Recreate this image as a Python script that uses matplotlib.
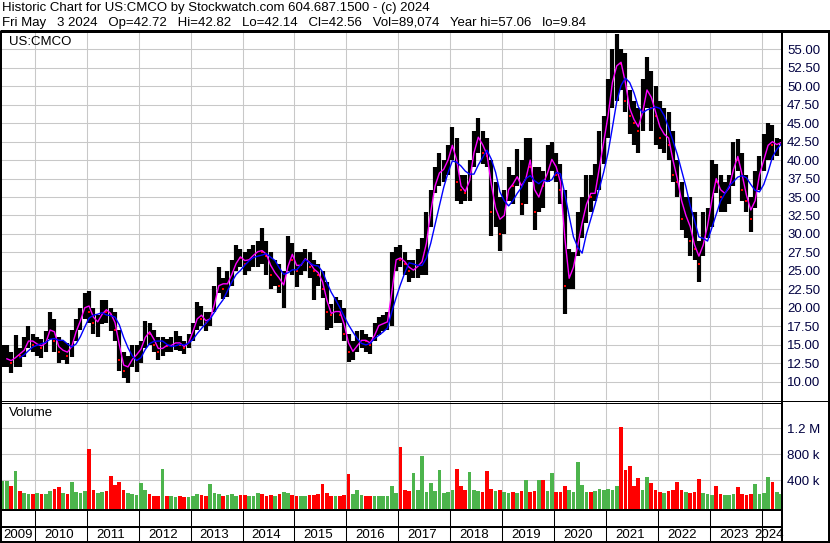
import matplotlib
matplotlib.use('Agg')
import matplotlib.pyplot as plt
from matplotlib.lines import Line2D
import numpy as np
import pandas as pd

plt.rcParams['font.family'] = ['Liberation Sans', 'DejaVu Sans']

W, H = 830, 543

# monthly bars, May 2009 .. May 2024
months = pd.period_range('2009-05', '2024-05', freq='M')

highs = [
    15, 15, 14, 16.3, 14.5, 16, 17.5, 16.5,                              # 2009
    16, 15.8, 16.8, 19.5, 18.5, 16, 15.5, 15.2, 17, 18.5, 20, 22,        # 2010
    22.3, 20, 19, 21, 21, 20, 19.5, 17, 14, 13.5, 15, 15,                # 2011
    15.5, 18.2, 18, 17, 16, 16, 15.8, 16, 16.8, 16.2, 15.5, 16.5,        # 2012
    18, 20.8, 20.2, 19.5, 19.5, 23, 25.5, 24, 25, 26.5, 28.5, 28,        # 2013
    27.5, 28, 28.5, 29, 30.8, 29, 27.5, 26.5, 26, 25, 29.7, 28.8,        # 2014
    27.5, 27.5, 28, 27.5, 26.5, 26, 25, 23.5, 20.5, 21.5, 21, 20,        # 2015
    16.5, 15.5, 16.8, 17, 16.5, 16, 18, 18.8, 19, 19.5, 27.5, 28.3,      # 2016
    28.5, 27.5, 26.5, 26.5, 28, 29.5, 33, 36, 39, 41, 40, 42,            # 2017
    44.5, 43, 38, 38, 40, 44, 45.7, 44, 43, 40, 37, 35,                  # 2018
    36, 39, 38, 41.5, 40, 43, 43, 39, 39, 38.5, 42, 42.5,                # 2019
    41, 39.5, 36, 28, 27.5, 33, 35, 38, 38, 39.5, 44, 46,                # 2020
    51, 55, 57.06, 55, 54.5, 49.5, 48, 47, 51, 54, 52, 50,               # 2021
    48, 47, 46.5, 44, 40, 37, 35, 35, 33, 29, 33, 33.5,                  # 2022
    40, 39.5, 38, 37, 38, 42.5, 42.8, 41, 38, 35, 38.5, 40.5,            # 2023
    43.5, 45, 44.8, 43, 42.82,                                           # 2024
]
lows = [
    12, 12, 11.2, 12, 12, 13.3, 14.5, 14,
    13.5, 13.2, 14, 15.8, 14, 12.5, 13, 12.4, 13.3, 15.5, 17, 18.5,
    18, 16.5, 16, 17.8, 18, 16.8, 15.5, 11.4, 10.5, 9.84, 12, 11.3,
    12.5, 14.5, 15, 14, 13, 13.5, 14, 14, 14.3, 14.2, 13.8, 14.5,
    15.5, 17, 17.5, 16.8, 17.5, 19.5, 22, 21.2, 21.5, 23, 25, 25.5,
    24.5, 25, 25.5, 25.5, 26, 24.5, 22.6, 23, 22, 20, 25, 24.5,
    22.8, 24.5, 25, 24, 21, 23, 21.3, 17, 17.3, 18, 18, 15.5,
    12.6, 13, 14, 14.5, 14, 13.8, 15.5, 16.3, 16.8, 17, 17.5, 25,
    25.5, 24.5, 23.5, 24, 24, 24.5, 24.5, 31, 35.5, 36.5, 37, 38,
    40, 34.5, 34, 34.5, 34.5, 39, 41, 39.5, 39, 29.7, 31, 27.7,
    30, 34.5, 34, 36.5, 32.5, 34, 37, 30.6, 33, 33.5, 37, 38.5,
    37, 34, 19.2, 22.5, 22.5, 27, 29.5, 31.5, 33, 34.5, 36, 39.5,
    43, 47, 48, 49.5, 46.5, 43.5, 42, 41, 44, 47, 44, 42,
    41.5, 41, 40, 37, 35, 30.5, 29.5, 27, 26.5, 23.5, 27, 29.5,
    31, 35.5, 33, 33, 34, 36.5, 38.5, 34.5, 33, 30.2, 33.5, 36,
    38.5, 40, 40, 40.5, 42.14,
]
closes = [
    13, 13.2, 12.5, 14, 13.5, 15, 16, 15,
    15.2, 14.5, 16, 18, 15.5, 14, 14.5, 13.5, 16, 17.5, 19, 21,
    19.5, 18, 18.2, 20, 19.5, 19, 17, 13, 11.5, 12.5, 13.5, 13.8,
    15, 17, 16.5, 15, 14, 15, 14.8, 15, 15.5, 15, 14.5, 16,
    17.5, 19.5, 18.5, 18, 19, 22, 24, 22.5, 24, 25, 27, 26.8,
    26, 27, 27.2, 28, 27.5, 27, 24.5, 25, 23, 23.2, 28, 26.5,
    25, 26.5, 26.8, 25.5, 25, 24.5, 22.5, 19.5, 19, 20, 19, 16.5,
    14, 14.2, 15.5, 15.7, 15.5, 15, 17.5, 17.7, 18, 18.2, 26, 27,
    26.5, 26, 25, 25.2, 26, 26.5, 31, 35, 38, 38.5, 39, 41,
    43, 37, 36, 35.5, 39, 43, 43.2, 41, 40.5, 33, 34, 30,
    35, 37, 36.5, 39, 34, 41, 39, 33, 37, 36.5, 40, 40.2,
    38, 36, 23, 25, 26, 31, 32, 36, 35, 36, 42, 43,
    49, 52, 53.5, 53, 48, 46, 45, 44, 49, 50, 47, 46,
    43, 44, 42, 38, 37, 32, 33, 29, 28, 26, 31, 31.2,
    38, 37, 35, 36, 36.5, 41, 40, 36, 34.5, 32, 37, 39,
    41, 43, 42, 42.2, 42.56,
]
# volume in thousands of shares
volumes_k = [
    390, 390, 300, 546, 230, 200, 190, 180,
    200, 190, 180, 230, 260, 287, 200, 180, 371, 220, 200, 230,
    882, 250, 200, 220, 230, 464, 330, 371, 250, 200, 180, 170,
    350, 250, 180, 160, 150, 573, 160, 150, 140, 150, 130, 140,
    160, 190, 170, 160, 340, 200, 180, 160, 170, 180, 160, 170,
    170, 160, 150, 200, 180, 160, 170, 160, 180, 222, 200, 170,
    160, 150, 160, 170, 170, 180, 340, 200, 160, 150, 150, 170,
    495, 180, 250, 170, 160, 150, 160, 150, 150, 160, 300, 200,
    918, 250, 230, 515, 250, 779, 220, 350, 230, 557, 200, 210,
    250, 573, 300, 250, 530, 250, 230, 220, 540, 260, 230, 250,
    220, 200, 210, 200, 230, 402, 220, 230, 400, 400, 230, 510,
    220, 210, 300, 250, 220, 680, 320, 220, 210, 230, 260, 250,
    260, 250, 300, 1218, 557, 619, 300, 433, 250, 445, 350, 250,
    220, 200, 230, 250, 370, 250, 220, 200, 220, 412, 200, 180,
    170, 300, 180, 170, 170, 190, 290, 180, 170, 190, 340, 180,
    200, 445, 370, 220, 180,
]

price_ticks = np.arange(10, 55.01, 2.5)
vol_ticks = [400e3, 800e3, 1.2e6]
vol_labels = ['400 k', '800 k', '1.2 M']
header1 = 'Historic Chart for US:CMCO by Stockwatch.com 604.687.1500 - (c) 2024'
header2 = ('Fri May   3 2024   Op=42.72   Hi=42.82   Lo=42.14   Cl=42.56   '
           'Vol=89,074   Year hi=57.06   lo=9.84')

highs = np.array(highs)
lows = np.array(lows)
closes = np.array(closes)
vols = np.array(volumes_k) * 1000.0
t = np.array([p.year + (p.month - 1) / 12 + 1 / 24 for p in months])

ma_short = pd.Series(closes).rolling(2).mean()
ma_long = pd.Series(closes).rolling(5).mean()

prev = np.r_[closes[0], closes[:-1]]
down = closes < prev
vol_colors = np.where(down, '#ff0000', '#4cb44c')

GRID = '#c8c8c8'
LBL = '#000040'
FS = 9.5


def fx(px):
    return px / W


def fy(py):
    return 1 - py / H


fig = plt.figure(figsize=(W / 100, H / 100), dpi=100)
xmin, xmax = 2009.326, 2024.393

# price panel
ax = fig.add_axes([0, fy(400), fx(782), (400 - 31) / H])
for v in price_ticks:
    ax.axhline(v, color=GRID, lw=0.75, zorder=0)
for yr in range(2010, 2025):
    ax.axvline(yr, color=GRID, lw=0.75, zorder=0)
ax.vlines(t, lows, highs, color='black', linewidth=3.0, zorder=2)
ax.plot(t[down], closes[down], 's', color='red', markersize=2.0,
        markeredgewidth=0, zorder=3)
ax.plot(t, ma_short, color='#ff00ff', lw=1, zorder=4)
ax.plot(t, ma_long, color='#0000ff', lw=1, zorder=4)
ax.set_xlim(xmin, xmax)
ax.set_ylim(7.52, 57.48)
ax.set_xticks([])
ax.yaxis.tick_right()
ax.set_yticks(price_ticks)
ax.set_yticklabels([f'{v:.2f}' for v in price_ticks])
ax.tick_params(axis='y', length=0, pad=3.6, labelsize=FS, labelcolor=LBL)
for s in ax.spines.values():
    s.set_visible(False)

# volume panel
axv = fig.add_axes([0, fy(509.5), fx(782), (509.5 - 402) / H])
vbot = -56e3
for v in vol_ticks:
    axv.axhline(v, color=GRID, lw=0.75, zorder=0)
for yr in range(2010, 2025):
    axv.axvline(yr, color=GRID, lw=0.75, zorder=0)
axv.bar(t, vols - vbot, bottom=vbot, width=0.85 / 12, color=vol_colors,
        linewidth=0, zorder=2)
axv.set_xlim(xmin, xmax)
axv.set_ylim(vbot, 1.607e6)
axv.set_xticks([])
axv.yaxis.tick_right()
axv.set_yticks(vol_ticks)
axv.set_yticklabels(vol_labels)
axv.tick_params(axis='y', length=0, pad=3.6, labelsize=FS, labelcolor=LBL)
for s in axv.spines.values():
    s.set_visible(False)

# year strip
axb = fig.add_axes([0, fy(541.5), fx(782), (541.5 - 510) / H])
axb.set_xlim(xmin, xmax)
axb.set_ylim(0, 1)
axb.axis('off')
for yr in range(2010, 2025):
    axb.axvline(yr, color='black', lw=0.75)
for yr in range(2009, 2025):
    if yr == 2009:
        axb.text(xmin + 0.06, 0.21, str(yr), ha='left', va='center', fontsize=FS)
    elif yr == 2024:
        axb.text(xmax + 0.04, 0.21, str(yr), ha='right', va='center', fontsize=FS)
    else:
        axb.text(yr + 0.46, 0.21, str(yr), ha='center', va='center', fontsize=FS)


def hline(y, xa, xb, lw):
    fig.add_artist(Line2D([fx(xa), fx(xb)], [fy(y), fy(y)], color='black',
                          linewidth=lw * 0.72, solid_capstyle='butt',
                          transform=fig.transFigure))


def vline(x, ya, yb, lw):
    fig.add_artist(Line2D([fx(x), fx(x)], [fy(ya), fy(yb)], color='black',
                          linewidth=lw * 0.72, solid_capstyle='butt',
                          transform=fig.transFigure))


hline(30.5, 0, W, 3)
hline(400.5, 0, W, 1)
hline(402.5, 0, 782, 1)
hline(510, 0, 782, 2)
hline(527, 0, 782, 2)
hline(541.8, 0, W, 2)
vline(1, 31, 543, 2)
vline(782, 31, 543, 2)
vline(829, 31, 543, 2)

fig.text(fx(2), fy(8.5), header1, ha='left', va='center', fontsize=FS)
fig.text(fx(2), fy(22.7), header2, ha='left', va='center', fontsize=FS)
fig.text(fx(9), fy(42), 'US:CMCO', ha='left', va='center', fontsize=FS)
fig.text(fx(9), fy(413.5), 'Volume', ha='left', va='center', fontsize=FS)

fig.savefig('out.png', dpi=100)
